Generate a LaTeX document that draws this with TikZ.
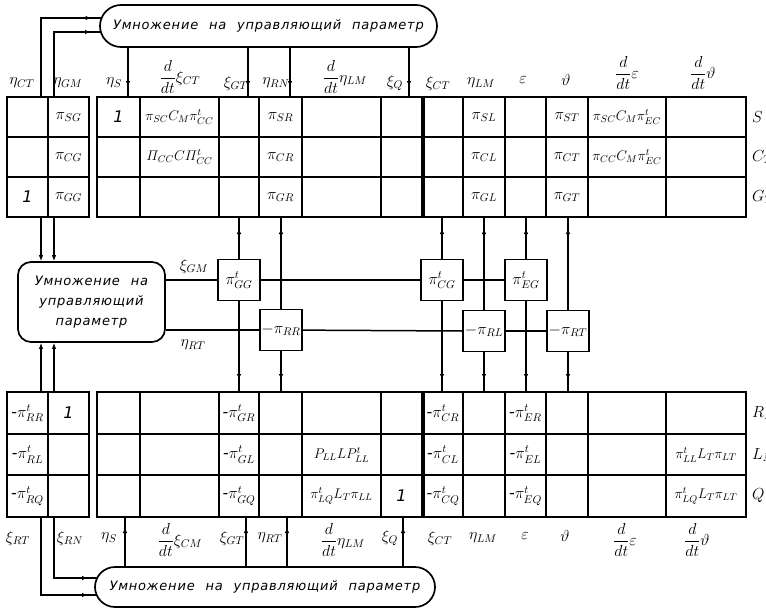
\RequirePackage{fix-cm}
\documentclass[tikz,border=0pt]{standalone}
\usepackage{amsmath}
\usepackage{fontspec}
\setmainfont{DejaVu Sans}
\newfontfamily\rufont{DejaVu Sans}[LetterSpace=6,WordSpace=2.2]
\newcommand{\hy}{\text{-}}
\usetikzlibrary{arrows.meta,decorations.markings}
\begin{document}
\begin{tikzpicture}[x=1pt,y=-1pt,
 every node/.style={inner sep=0pt},
 tbl/.style={line width=2.6pt},
 gridl/.style={line width=1.6pt},
 sep/.style={line width=3.4pt},
 wire/.style={line width=1.5pt},
 cellt/.style={font=\fontsize{16}{18}\selectfont},
 cellw/.style={font=\fontsize{14}{16}\selectfont},
 lab/.style={font=\fontsize{16}{18}\selectfont},
 pill/.style={draw, line width=1.7pt, font=\rufont\itshape\fontsize{13}{20}\selectfont},
 blk/.style={draw, fill=white, line width=1.8pt, minimum width=42pt, minimum height=41pt, font=\fontsize{16}{18}\selectfont},
 midarr/.style={postaction=decorate, decoration={markings, mark=at position #1 with {\arrow{Latex[length=6pt,width=4.5pt]}}}},
 endarr/.style={-{Latex[length=6pt,width=4.5pt]}}
]
\useasboundingbox (0,0) rectangle (766,608);

% ---------- pills ----------
\node[pill, rounded corners=21pt, minimum width=337pt, minimum height=42pt] (toppill) at (268.5,26) {Умножение на управляющий параметр};
\node[pill, rounded corners=13pt, minimum width=147pt, minimum height=80pt, align=center] (midpill) at (91.5,302) {Умножение на\\управляющий\\параметр};
\node[pill, rounded corners=20pt, minimum width=340pt, minimum height=40pt] (botpill) at (265,587) {Умножение на управляющий параметр};

% ---------- top tables ----------
\draw[gridl] foreach \x in {140,219,259,302,381,463,505,546,588,666} {(\x,97) -- (\x,217)};
\draw[gridl] (97,137) -- (746,137) (97,177) -- (746,177);
\draw[sep] (423,97) -- (423,217);
\draw[tbl] (97,97) rectangle (746,217);
\draw[gridl] (48,97) -- (48,217) (7,137) -- (89,137) (7,177) -- (89,177);
\draw[tbl] (7,97) rectangle (89,217);

% ---------- bottom tables ----------
\draw[gridl] foreach \x in {140,219,259,302,381,463,505,546,588,666} {(\x,392) -- (\x,517)};
\draw[gridl] (97,434) -- (746,434) (97,475) -- (746,475);
\draw[sep] (423,392) -- (423,517);
\draw[tbl] (97,392) rectangle (746,517);
\draw[gridl] (48,392) -- (48,517) (7,434) -- (89,434) (7,475) -- (89,475);
\draw[tbl] (7,392) rectangle (89,517);

% ---------- top header labels ----------
\node[lab] (hA) at (22,83) {$\eta_{CT}$};
\node[lab] (hB) at (68,83) {$\eta_{GM}$};
\node[lab] (hC) at (114,83) {$\eta_{S}$};
\node[lab] (hD) at (180,77) {$\dfrac{d}{dt}\xi_{CT}$};
\node[lab] (hE) at (236,83) {$\xi_{GT}$};
\node[lab] (hF) at (276,83) {$\eta_{RN}$};
\node[lab] (hG) at (345,77) {$\dfrac{d}{dt}\eta_{LM}$};
\node[lab] (hH) at (395,83) {$\xi_{Q}$};
\node[lab] (hI) at (438,83) {$\xi_{CT}$};
\node[lab] (hJ) at (481,83) {$\eta_{LM}$};
\node[lab] (hK) at (523,80) {$\varepsilon$};
\node[lab] (hL) at (566,80) {$\vartheta$};
\node[lab] (hM) at (627,73) {$\dfrac{d}{dt}\varepsilon$};
\node[lab] (hN) at (703,73) {$\dfrac{d}{dt}\vartheta$};

% ---------- bottom header labels ----------
\node[lab] (fA) at (18,538) {$\xi_{RT}$};
\node[lab] (fB) at (70,538) {$\xi_{RN}$};
\node[lab] (fC) at (109,538) {$\eta_{S}$};
\node[lab] (fD) at (180,540) {$\dfrac{d}{dt}\xi_{CM}$};
\node[lab] (fE) at (232,538) {$\xi_{GT}$};
\node[lab] (fF) at (270,538) {$\eta_{RT}$};
\node[lab] (fG) at (343,540) {$\dfrac{d}{dt}\eta_{LM}$};
\node[lab] (fH) at (390,538) {$\xi_{Q}$};
\node[lab] (fI) at (440,538) {$\xi_{CT}$};
\node[lab] (fJ) at (483,538) {$\eta_{LM}$};
\node[lab] (fK) at (525,536) {$\varepsilon$};
\node[lab] (fL) at (565,536) {$\vartheta$};
\node[lab] (fM) at (625,540) {$\dfrac{d}{dt}\varepsilon$};
\node[lab] (fN) at (697,540) {$\dfrac{d}{dt}\vartheta$};

% ---------- row labels ----------
\node[lab, anchor=west] (rS) at (752,117) {$S$};
\node[lab, anchor=west] (rC) at (752,157) {$C_{T}$};
\node[lab, anchor=west] (rG) at (752,197) {$G_{T}$};
\node[lab, anchor=west] (rR) at (752,413) {$R_{M}$};
\node[lab, anchor=west] (rL) at (752,455) {$L_{M}$};
\node[lab, anchor=west] (rQ) at (752,496) {$Q$};

% ---------- top cells ----------
\node[cellt] (t01) at (68.5,117) {$\pi_{SG}$};
\node[cellt] (t02) at (68.5,157) {$\pi_{CG}$};
\node[cellt] (t03) at (27.5,197) {\itshape 1};
\node[cellt] (t04) at (68.5,197) {$\pi_{GG}$};
\node[cellt] (t05) at (118.5,117) {\itshape 1};
\node[cellw] (t06) at (179.5,117) {$\pi_{SC}C_{M}\pi^{t}_{CC}$};
\node[cellw] (t07) at (179.5,157) {$\varPi_{CC}C\varPi^{t}_{CC}$};
\node[cellt] (t08) at (280.5,117) {$\pi_{SR}$};
\node[cellt] (t09) at (280.5,157) {$\pi_{CR}$};
\node[cellt] (t10) at (280.5,197) {$\pi_{GR}$};
\node[cellt] (t11) at (484,117) {$\pi_{SL}$};
\node[cellt] (t12) at (484,157) {$\pi_{CL}$};
\node[cellt] (t13) at (484,197) {$\pi_{GL}$};
\node[cellt] (t14) at (567,117) {$\pi_{ST}$};
\node[cellt] (t15) at (567,157) {$\pi_{CT}$};
\node[cellt] (t16) at (567,197) {$\pi_{GT}$};
\node[cellw] (t17) at (627,117) {$\pi_{SC}C_{M}\pi^{t}_{EC}$};
\node[cellw] (t18) at (627,157) {$\pi_{CC}C_{M}\pi^{t}_{EC}$};

% ---------- bottom cells ----------
\node[cellt] (b01) at (27.5,413) {$\hy\pi^{t}_{RR}$};
\node[cellt] (b02) at (68.5,413) {\itshape 1};
\node[cellt] (b03) at (27.5,454.5) {$\hy\pi^{t}_{RL}$};
\node[cellt] (b04) at (27.5,496) {$\hy\pi^{t}_{RQ}$};
\node[cellt] (b05) at (239,413) {$\hy\pi^{t}_{GR}$};
\node[cellt] (b06) at (239,454.5) {$\hy\pi^{t}_{GL}$};
\node[cellt] (b07) at (239,496) {$\hy\pi^{t}_{GQ}$};
\node[cellw] (b08) at (341.5,454.5) {$P_{LL}LP^{t}_{LL}$};
\node[cellw] (b09) at (341.5,496) {$\pi^{t}_{LQ}L_{T}\pi_{LL}$};
\node[cellt] (b10) at (401.5,496) {\itshape 1};
\node[cellt] (b11) at (443,413) {$\hy\pi^{t}_{CR}$};
\node[cellt] (b12) at (443,454.5) {$\hy\pi^{t}_{CL}$};
\node[cellt] (b13) at (443,496) {$\hy\pi^{t}_{CQ}$};
\node[cellt] (b14) at (525.5,413) {$\hy\pi^{t}_{ER}$};
\node[cellt] (b15) at (525.5,454.5) {$\hy\pi^{t}_{EL}$};
\node[cellt] (b16) at (525.5,496) {$\hy\pi^{t}_{EQ}$};
\node[cellw] (b17) at (706,454.5) {$\pi^{t}_{LL}L_{T}\pi_{LT}$};
\node[cellw] (b18) at (706,496) {$\pi^{t}_{LQ}L_{T}\pi_{LT}$};

% ---------- blocks ----------
\node[blk] (bGG) at (239,280) {$\pi^{t}_{GG}$};
\node[blk] (bRR) at (281,330) {$-\pi_{RR}$};
\node[blk] (bCG) at (442,280) {$\pi^{t}_{CG}$};
\node[blk] (bEG) at (526,280) {$\pi^{t}_{EG}$};
\node[blk] (bRL) at (484,331) {$-\pi_{RL}$};
\node[blk] (bRT) at (568,331) {$-\pi_{RT}$};

\node[lab] (lXiGM) at (194,266) {$\xi_{GM}$};
\node[lab] (lEtaRT) at (193,345) {$\eta_{RT}$};

% ---------- coordinates on tables ----------
\foreach \x in {128,248,290,409} {\coordinate (tt\x) at (\x,97);}
\foreach \x in {125,246,287,403} {\coordinate (bb\x) at (\x,517);}
\foreach \x in {239,281,442,484,526,568} {\coordinate (tb\x) at (\x,217); \coordinate (bt\x) at (\x,392);}
\coordinate (tlA) at (41,97);  \coordinate (tlB) at (54,97);
\coordinate (tlC) at (41,217); \coordinate (tlD) at (54,217);
\coordinate (blA) at (41,392); \coordinate (blB) at (54,392);
\coordinate (blC) at (41,517); \coordinate (blD) at (54,517);
\coordinate (tpA) at (101.5,18); \coordinate (tpB) at (101,32);
\coordinate (bpA) at (97,595); \coordinate (bpB) at (97,578);

% ---------- connectors: top pill ----------
\foreach \x in {128,248,290,409} {\draw[wire, midarr=-10pt] (toppill.south -| tt\x) -- (tt\x);}
\draw[wire, midarr=-10pt] (tlA) -- (tlA |- tpA) -- (tpA);
\draw[wire, midarr=-10pt] (tlB) -- (tlB |- tpB) -- (tpB);

% ---------- connectors: middle pill ----------
\draw[wire, endarr] (tlC) -- (tlC |- midpill.north);
\draw[wire, endarr] (tlD) -- (tlD |- midpill.north);
\draw[wire, endarr] (blA) -- (blA |- midpill.south);
\draw[wire, endarr] (blB) -- (blB |- midpill.south);
\draw[wire] (midpill.east |- bGG) -- (bGG);
\draw[wire] (bGG) -- (bCG);
\draw[wire] (bCG) -- (bEG);
\draw[wire] (midpill.east |- bRR) -- (bRR);
\draw[wire] (bRR) -- (bRL.west);
\draw[wire] (bRL) -- (bRT);

% ---------- connectors: blocks to tables ----------
\draw[wire, midarr=-11pt] (bGG) -- (tb239);
\draw[wire, midarr=-12pt] (bGG) -- (bt239);
\draw[wire, midarr=-11pt] (bRR) -- (tb281);
\draw[wire, midarr=-12pt] (bRR) -- (bt281);
\draw[wire, midarr=-11pt] (bCG) -- (tb442);
\draw[wire, midarr=-12pt] (bCG) -- (bt442);
\draw[wire, midarr=-11pt] (bRL) -- (tb484);
\draw[wire, midarr=-12pt] (bRL) -- (bt484);
\draw[wire, midarr=-11pt] (bEG) -- (tb526);
\draw[wire, midarr=-12pt] (bEG) -- (bt526);
\draw[wire, midarr=-11pt] (bRT) -- (tb568);
\draw[wire, midarr=-12pt] (bRT) -- (bt568);

% ---------- connectors: bottom pill ----------
\foreach \x in {125,246,287,403} {\draw[wire, midarr=-10pt] (botpill.north -| bb\x) -- (bb\x);}
\draw[wire, midarr=-9pt] (blC) -- (blC |- bpA) -- (bpA);
\draw[wire, midarr=-9pt] (blD) -- (blD |- bpB) -- (bpB);
\end{tikzpicture}
\end{document}
